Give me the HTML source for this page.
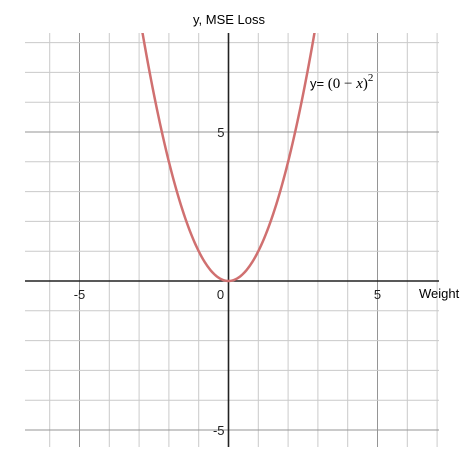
<!DOCTYPE html>
<html><head><meta charset="utf-8"><style>
html,body{margin:0;padding:0;background:#fff;}
svg{display:block;font-family:"Liberation Sans",sans-serif;}
</style></head><body>
<svg id="chart" width="474" height="468" viewBox="0 0 474 468">
<defs><clipPath id="clip"><rect x="25" y="33" width="414" height="414"/></clipPath></defs>
<g id="grid"></g>
<g id="axes"></g>
<g id="labels"></g>
<path id="curve" fill="none" stroke="#d07070" stroke-width="2.5" clip-path="url(#clip)"/>
<text x="229" y="24" text-anchor="middle" font-size="13" fill="#000">y, MSE Loss</text>
<text x="419" y="298" font-size="13" fill="#000">Weight</text>
<text x="310" y="88" font-size="13" fill="#000">y= <tspan font-family="Liberation Serif,serif" font-size="15">(0 − <tspan font-style="italic">x</tspan>)</tspan><tspan font-family="Liberation Serif,serif" font-size="11" dy="-7">2</tspan></text>
</svg>
<script>
const xGrid=[-6,-5,-4,-3,-2,-1,0,1,2,3,4,5,6,7];
const yGrid=[8,7,6,5,4,3,2,1,0,-1,-2,-3,-4,-5];
const xTickLabels=[-5,0,5];
const yTickLabels=[5,-5];
const curveX=[];for(let i=0;i<=120;i++){curveX.push(-3+i*0.05);}
const weightOffset=0;
const NS="http://www.w3.org/2000/svg";
const ux=29.8,uy=29.8,ox=228.5,oy=281;
const sx=x=>ox+ux*x, sy=y=>oy-uy*y;
function mk(tag,attrs,parent){const e=document.createElementNS(NS,tag);for(const k in attrs)e.setAttribute(k,attrs[k]);parent.appendChild(e);return e;}
const grid=document.getElementById('grid');
xGrid.forEach(v=>{const l=mk('line',{x1:sx(v),x2:sx(v),y1:33,y2:447,stroke:v%5===0?'#959595':'#cacaca','stroke-width':1},grid);

});
yGrid.forEach(v=>{const l=mk('line',{x1:25,x2:439,y1:sy(v),y2:sy(v),stroke:v%5===0?'#959595':'#cacaca','stroke-width':1},grid);

});
const axes=document.getElementById('axes');
const xa=mk('line',{x1:25,x2:439,y1:sy(0),y2:sy(0),stroke:'#222','stroke-width':1.6},axes);


const ya=mk('line',{x1:sx(0),x2:sx(0),y1:33,y2:447,stroke:'#222','stroke-width':1.6},axes);


const labels=document.getElementById('labels');
xTickLabels.forEach(v=>{const t=mk('text',{x:v===0?sx(v)-8:sx(v),y:sy(0)+18,'text-anchor':'middle','font-size':13,fill:'#222'},labels);t.textContent=String(v);

});
yTickLabels.forEach(v=>{const t=mk('text',{x:sx(0)-4,y:sy(v)+5,'text-anchor':'end','font-size':13,fill:'#222'},labels);t.textContent=String(v);

});
let d='';curveX.forEach((x,i)=>{const y=(weightOffset-x)*(weightOffset-x);d+=(i?'L':'M')+sx(x).toFixed(2)+' '+sy(y).toFixed(2);});
document.getElementById('curve').setAttribute('d',d);
</script>
</body></html>
